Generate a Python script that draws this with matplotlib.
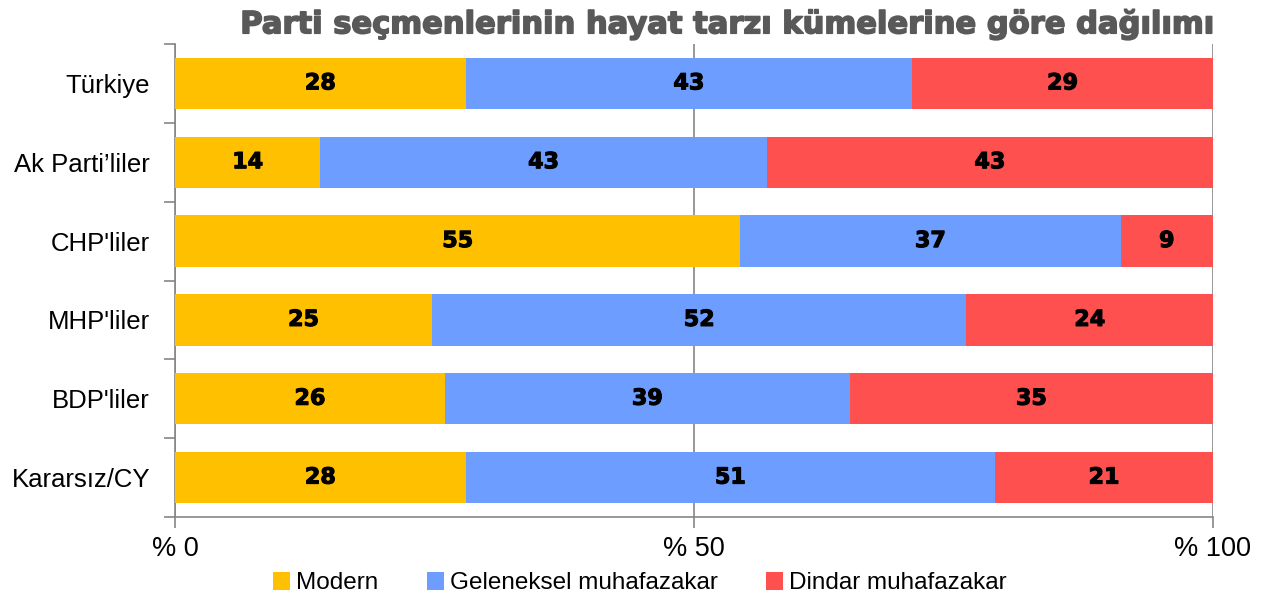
import matplotlib
matplotlib.use("Agg")
import matplotlib.pyplot as plt
import matplotlib.patheffects as pe
import numpy as np

categories = ["Türkiye", "Ak Parti\u2019liler", "CHP'liler", "MHP'liler", "BDP'liler", "Kararsız/CY"]
series_names = ["Modern", "Geleneksel muhafazakar", "Dindar muhafazakar"]
modern = [28, 14, 55, 25, 26, 28]
geleneksel = [43, 43, 37, 52, 39, 51]
dindar = [29, 43, 9, 24, 35, 21]
colors = ["#FFC000", "#6D9EFF", "#FF5050"]
tick_values = [0, 50, 100]
tick_labels = ["% 0", "% 50", "% 100"]
title = "Parti seçmenlerinin hayat tarzı kümelerine göre dağılımı"

data = np.array([modern, geleneksel, dindar], dtype=float)
totals = data.sum(axis=0)
shares = data / totals * 100

fig = plt.figure(figsize=(12.68, 5.99), dpi=100)
ax = fig.add_axes([175/1268, 1-517/599, (1213-175)/1268, (517-44)/599])

y = np.arange(len(categories))
left = np.zeros(len(categories))
for i, name in enumerate(series_names):
    ax.barh(y, shares[i], left=left, height=0.65, color=colors[i], label=name, zorder=3)
    for j in range(len(categories)):
        ax.text(left[j] + shares[i][j] / 2, y[j], f"{int(data[i][j])}", ha="center", va="center",
                fontsize=16, fontweight="bold", color="black", family="DejaVu Sans", zorder=4,
                path_effects=[pe.withStroke(linewidth=0.8, foreground="black")])
    left += shares[i]

ax.set_xlim(0, 100)
ax.set_ylim(len(categories) - 0.5, -0.5)
ax.set_xticks(tick_values)
ax.set_xticklabels(tick_labels, fontsize=19.5, family="Liberation Sans")
ax.set_yticks(y)
ax.set_yticklabels(categories, fontsize=18.5, family="Liberation Sans")
ax.tick_params(axis="y", length=0, pad=18)
ax.set_yticks(np.arange(-0.5, len(categories), 1), minor=True)
ax.tick_params(axis="y", which="minor", length=8, color="#868686", width=1.2)
ax.tick_params(axis="x", length=8, color="#868686", width=1.2, pad=6)
ax.xaxis.grid(True, color="#868686", linewidth=1.2, zorder=0)
for s in ["top", "right"]:
    ax.spines[s].set_visible(False)
for s in ["left", "bottom"]:
    ax.spines[s].set_color("#868686")
    ax.spines[s].set_linewidth(1.2)

fig.text(1211/1268, 1-24/599, title, ha="right", va="center", fontsize=22,
         fontweight="bold", color="#595959", family="DejaVu Sans",
         path_effects=[pe.withStroke(linewidth=1.2, foreground="#595959")])

leg = fig.legend(loc="center", bbox_to_anchor=(640/1268, 1-583/599), ncol=3, frameon=False,
                 prop={"family": "Liberation Sans", "size": 17.5}, handlelength=0.7, handleheight=0.8,
                 handletextpad=0.25, columnspacing=2.0)

fig.savefig("out.png", dpi=100)
